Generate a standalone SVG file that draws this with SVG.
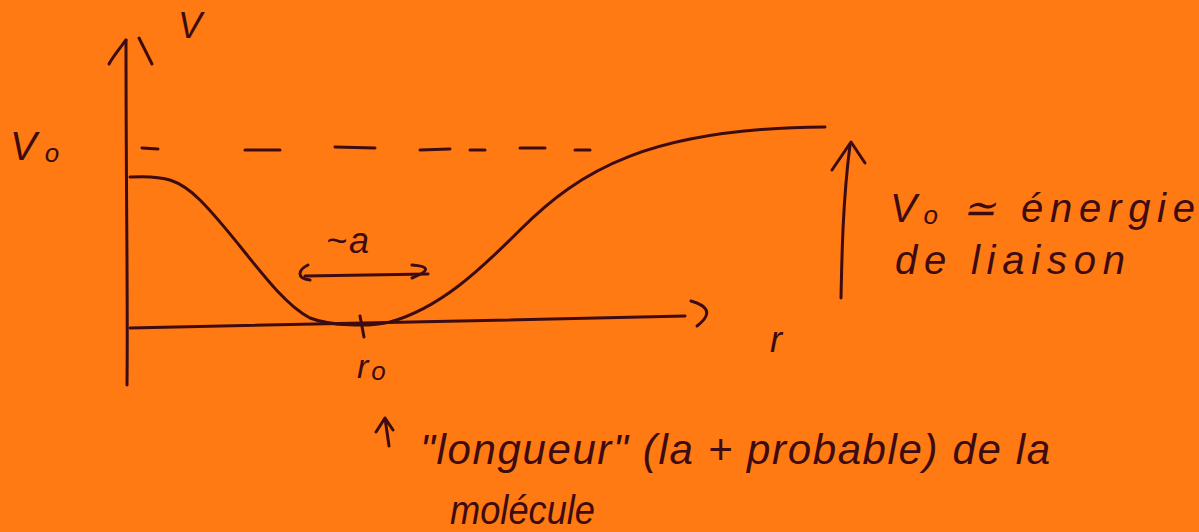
<svg xmlns="http://www.w3.org/2000/svg" width="1199" height="532" viewBox="0 0 1199 532">
<style>
.ink{fill:none;stroke:#3d0c12;stroke-width:3;stroke-linecap:round;stroke-linejoin:round}
.t{fill:#3d0c12;font-family:"Liberation Sans",sans-serif;font-style:italic}
</style>
<rect width="1199" height="532" fill="#ff7a12"/>
<g id="axes">
<path class="ink" d="M127,385 C128,300 126,200 126,40"/>
<path class="ink" d="M109,64 C112,58 120,48 126,40"/>
<path class="ink" d="M139,38 L152,64"/>
<path class="ink" d="M130,328 C300,325 500,320 685,316"/>
<path class="ink" d="M691,301 C705,305 715,312 697,326"/>
<path class="ink" d="M360,316 L364,337"/>
</g>
<g id="dashes">
<path class="ink" d="M142,148 L158,149 M245,150 L280,150 M335,147 L375,148 M420,150 L450,149 M470,150 L485,150 M520,148 L545,148 M575,150 L590,150"/>
</g>
<g id="curve">
<path class="ink" d="M130,177 C165,175 180,180 200,200 C240,240 275,300 310,318 C330,326 370,327 390,322 C440,308 480,270 520,230 C580,170 650,128 825,127"/>
</g>
<g id="width-arrow">
<path class="ink" d="M305,276 L428,274"/>
<path class="ink" d="M308,265 C298,270 296,278 310,280"/>
<path class="ink" d="M412,265 C428,266 432,270 412,278"/>
</g>
<g id="v0-arrow">
<path class="ink" d="M841,298 C842,250 843,200 850,145"/>
<path class="ink" d="M832,170 L851,142 L865,163"/>
</g>
<g id="r0-arrow">
<path class="ink" d="M389,446 L385,418 M376,432 L385,418 L393,430"/>
</g>
<g id="labels">
<text class="t" x="178" y="38" font-size="36">V</text>
<text class="t" x="10" y="160" font-size="40" letter-spacing="8">V<tspan font-size="26" dy="2">o</tspan></text>
<text class="t" x="770" y="352" font-size="36">r</text>
<text class="t" x="357" y="378" font-size="34" letter-spacing="3">r<tspan font-size="26" dy="2">o</tspan></text>
<text class="t" x="326" y="253" font-size="36" letter-spacing="2">~a</text>
<text class="t" x="890" y="222" font-size="40" textLength="305" lengthAdjust="spacing">V<tspan font-size="26" dy="2">o</tspan><tspan dy="-2"> ≃ énergie</tspan></text>
<text class="t" x="895" y="274" font-size="40" textLength="230" lengthAdjust="spacing">de liaison</text>
<text class="t" x="420" y="464" font-size="42" textLength="630" lengthAdjust="spacing">"longueur" (la + probable) de la</text>
<text class="t" x="450" y="524" font-size="40" textLength="145" lengthAdjust="spacingAndGlyphs">molécule</text>
</g>
</svg>
